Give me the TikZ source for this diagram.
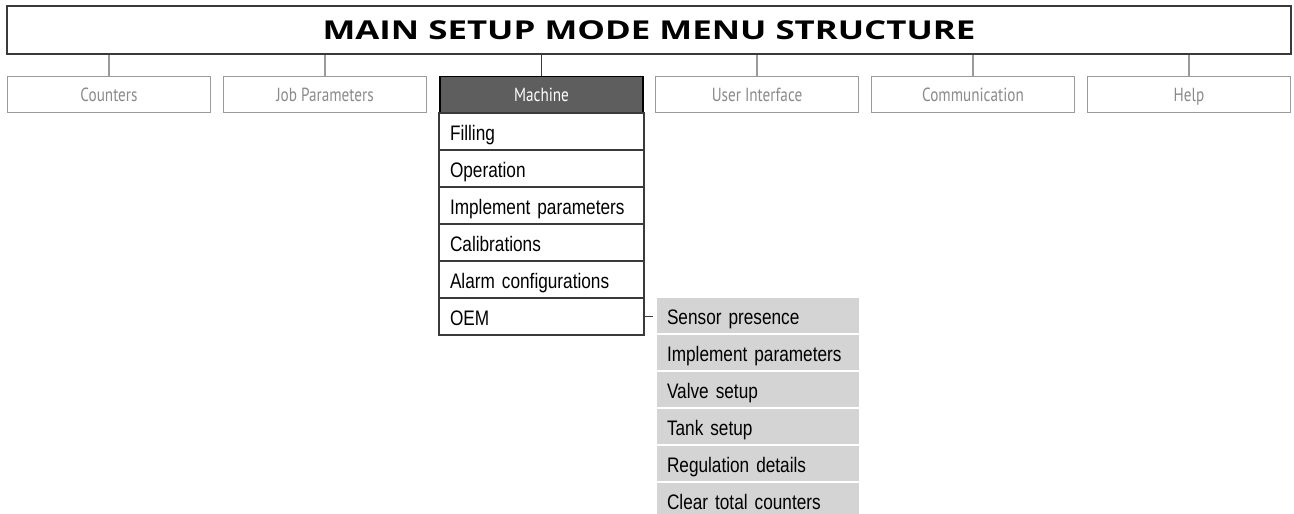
\documentclass[tikz,border=0pt]{standalone}
\usepackage{fontspec}
\setmainfont{Liberation Sans}
\newfontfamily\itemfont[FakeStretch=0.82]{Liberation Sans}
\newfontfamily\titlefont[FakeStretch=1.34]{Open Sans}
\newfontfamily\tabfont[FakeStretch=0.8]{PT Sans}
\definecolor{tabgray}{HTML}{9B9B9B}
\definecolor{tabtext}{HTML}{8A8A8A}
\definecolor{machinefill}{HTML}{5E5E5E}
\definecolor{subfill}{HTML}{D4D4D4}
\definecolor{framedark}{HTML}{3A3A3A}
\begin{document}
\begin{tikzpicture}[x=1pt,y=-1pt,
  titlebox/.style={draw=framedark, line width=1.3pt, minimum width=1284pt, minimum height=48pt, inner sep=0pt,
    text height=18.6pt, text depth=0pt, font=\titlefont\bfseries\fontsize{26}{30}\selectfont},
  tabbox/.style={draw=tabgray, line width=1.8pt, minimum width=203pt, minimum height=36pt, inner sep=0pt,
    text height=13.5pt, text depth=0pt, text=tabtext, font=\tabfont\fontsize{19}{22}\selectfont},
  activetab/.style={tabbox, draw=black, fill=machinefill, text=white},
  itembox/.style={draw=framedark, line width=1.1pt, minimum width=205pt, minimum height=37pt, inner xsep=11pt,
    inner ysep=0pt, text width=183pt, align=left, text height=17.5pt, text depth=0pt,
    font=\itemfont\fontsize{21}{24}\selectfont},
  subbox/.style={fill=subfill, minimum width=202pt, minimum height=35pt, inner xsep=10pt, inner ysep=0pt,
    text width=182pt, align=left, text height=17.5pt, text depth=0pt,
    font=\itemfont\fontsize{21}{24}\selectfont},
  tabline/.style={draw=tabgray, line width=1.3pt}]
\useasboundingbox (0,0) rectangle (1294,514);
\node[titlebox] (title) at (649,30) {MAIN SETUP MODE MENU STRUCTURE};
\node[tabbox] (counters) at (109,94.5) {Counters};
\node[tabbox] (job) at (325,94.5) {Job Parameters};
\node[activetab] (machine) at (541.5,94.5) {Machine};
\node[tabbox] (ui) at (757,94.5) {User Interface};
\node[tabbox] (comm) at (973,94.5) {Communication};
\node[tabbox] (help) at (1189,94.5) {Help};
\draw[tabline] (counters.north) -- (counters.north |- title.south);
\draw[tabline] (job.north) -- (job.north |- title.south);
\draw[tabline] (ui.north) -- (ui.north |- title.south);
\draw[tabline] (comm.north) -- (comm.north |- title.south);
\draw[tabline] (help.north) -- (help.north |- title.south);
\draw[line width=1.3pt, framedark] (machine.north) -- (machine.north |- title.south);
\node[itembox] (filling) at (541.5,131.5) {Filling};
\node[itembox] (operation) at (541.5,168.5) {Operation};
\node[itembox] (implement) at (541.5,205.5) {Implement parameters};
\node[itembox] (calib) at (541.5,242.5) {Calibrations};
\node[itembox] (alarm) at (541.5,279.5) {Alarm configurations};
\node[itembox] (oem) at (541.5,316.5) {OEM};
\node[subbox] (sensor) at (758,315.5) {Sensor presence};
\node[subbox] (subimpl) at (758,352.5) {Implement parameters};
\node[subbox] (valve) at (758,389.5) {Valve setup};
\node[subbox] (tank) at (758,426.5) {Tank setup};
\node[subbox] (regul) at (758,463.5) {Regulation details};
\node[subbox] (clear) at (758,500.5) {Clear total counters};
\draw[line width=1.1pt, framedark] (oem.east) -- ([xshift=-4pt]oem.east -| sensor.west);
\end{tikzpicture}
\end{document}
